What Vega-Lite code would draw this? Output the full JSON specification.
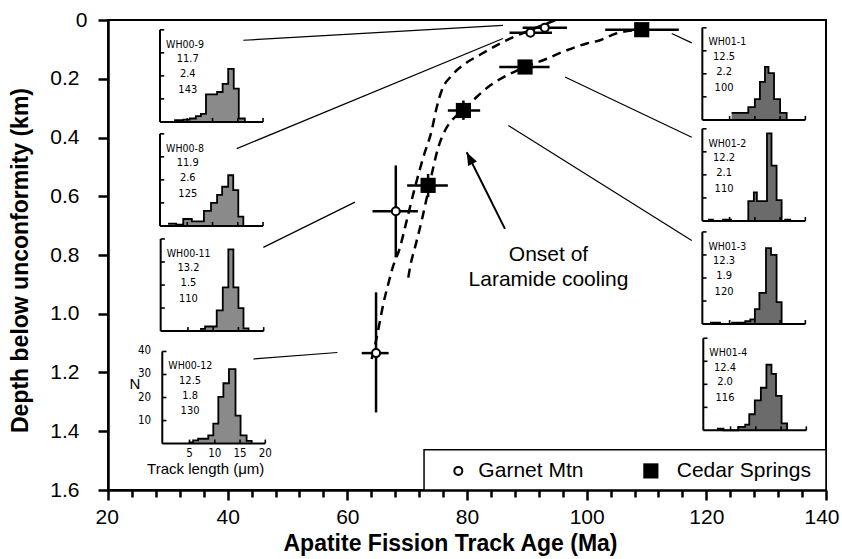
{
 "$schema": "https://vega.github.io/schema/vega-lite/v6.json",
 "width": 718,
 "height": 470,
 "autosize": "none",
 "padding": {"left": 108, "top": 20, "right": 16, "bottom": 69},
 "background": "white",
 "config": {
  "view": {"stroke": "black", "strokeWidth": 2},
  "font": "Liberation Sans",
  "axis": {"domainColor": "black", "domainWidth": 2.5, "tickColor": "black", "tickWidth": 2.5, "labelColor": "black", "labelFont": "Liberation Sans", "labelFontSize": 21, "titleFont": "Liberation Sans", "titleFontSize": 23, "titleFontWeight": "bold", "titleColor": "black", "grid": false, "labelFlush": false, "labelOverlap": false}
 },
 "datasets": {
  "samples": [
   {"site": "Garnet Mtn", "age": 93.0, "depth": 0.026, "age_lo": 89.3, "age_hi": 96.7},
   {"site": "Garnet Mtn", "age": 90.6, "depth": 0.043, "age_lo": 87.1, "age_hi": 94.2},
   {"site": "Garnet Mtn", "age": 68.1, "depth": 0.651, "age_lo": 64.2, "age_hi": 71.8, "depth_lo": 0.495, "depth_hi": 0.808},
   {"site": "Garnet Mtn", "age": 64.8, "depth": 1.134, "age_lo": 62.4, "age_hi": 66.9, "depth_lo": 0.927, "depth_hi": 1.336},
   {"site": "Cedar Springs", "age": 109.2, "depth": 0.033, "age_lo": 103.1, "age_hi": 115.4},
   {"site": "Cedar Springs", "age": 89.7, "depth": 0.160, "age_lo": 85.4, "age_hi": 93.8},
   {"site": "Cedar Springs", "age": 79.4, "depth": 0.308, "age_lo": 76.8, "age_hi": 82.2, "depth_lo": 0.274, "depth_hi": 0.340},
   {"site": "Cedar Springs", "age": 73.5, "depth": 0.563, "age_lo": 70.0, "age_hi": 76.8, "depth_lo": 0.524, "depth_hi": 0.603}
  ],
  "curves": [
   {"curve": "Garnet Mtn", "age": 64.07, "depth": 1.154},
   {"curve": "Garnet Mtn", "age": 64.79, "depth": 1.092},
   {"curve": "Garnet Mtn", "age": 65.46, "depth": 1.024},
   {"curve": "Garnet Mtn", "age": 66.01, "depth": 0.967},
   {"curve": "Garnet Mtn", "age": 66.85, "depth": 0.898},
   {"curve": "Garnet Mtn", "age": 67.42, "depth": 0.853},
   {"curve": "Garnet Mtn", "age": 68.80, "depth": 0.774},
   {"curve": "Garnet Mtn", "age": 69.92, "depth": 0.683},
   {"curve": "Garnet Mtn", "age": 71.31, "depth": 0.569},
   {"curve": "Garnet Mtn", "age": 72.70, "depth": 0.467},
   {"curve": "Garnet Mtn", "age": 74.10, "depth": 0.376},
   {"curve": "Garnet Mtn", "age": 74.94, "depth": 0.297},
   {"curve": "Garnet Mtn", "age": 75.77, "depth": 0.240},
   {"curve": "Garnet Mtn", "age": 77.45, "depth": 0.189},
   {"curve": "Garnet Mtn", "age": 79.67, "depth": 0.149},
   {"curve": "Garnet Mtn", "age": 82.46, "depth": 0.115},
   {"curve": "Garnet Mtn", "age": 85.52, "depth": 0.080},
   {"curve": "Garnet Mtn", "age": 87.74, "depth": 0.058},
   {"curve": "Garnet Mtn", "age": 90.53, "depth": 0.035},
   {"curve": "Garnet Mtn", "age": 93.32, "depth": 0.012},
   {"curve": "Garnet Mtn", "age": 94.88, "depth": 0.0},
   {"curve": "Cedar Springs", "age": 70.19, "depth": 0.877},
   {"curve": "Cedar Springs", "age": 70.48, "depth": 0.842},
   {"curve": "Cedar Springs", "age": 71.31, "depth": 0.774},
   {"curve": "Cedar Springs", "age": 72.43, "depth": 0.683},
   {"curve": "Cedar Springs", "age": 73.54, "depth": 0.580},
   {"curve": "Cedar Springs", "age": 74.37, "depth": 0.501},
   {"curve": "Cedar Springs", "age": 75.21, "depth": 0.433},
   {"curve": "Cedar Springs", "age": 76.33, "depth": 0.376},
   {"curve": "Cedar Springs", "age": 77.71, "depth": 0.336},
   {"curve": "Cedar Springs", "age": 79.39, "depth": 0.308},
   {"curve": "Cedar Springs", "age": 81.62, "depth": 0.262},
   {"curve": "Cedar Springs", "age": 83.85, "depth": 0.223},
   {"curve": "Cedar Springs", "age": 86.64, "depth": 0.189},
   {"curve": "Cedar Springs", "age": 89.70, "depth": 0.160},
   {"curve": "Cedar Springs", "age": 93.32, "depth": 0.132},
   {"curve": "Cedar Springs", "age": 96.67, "depth": 0.103},
   {"curve": "Cedar Springs", "age": 100.01, "depth": 0.080},
   {"curve": "Cedar Springs", "age": 102.23, "depth": 0.069},
   {"curve": "Cedar Springs", "age": 104.91, "depth": 0.046},
   {"curve": "Cedar Springs", "age": 109.2, "depth": 0.033}
  ],
  "leaders": [
   {"panel": "WH00-9", "age": 42.61, "depth": 0.069, "age2": 86.02, "depth2": 0.018},
   {"panel": "WH00-8", "age": 41.51, "depth": 0.438, "age2": 86.02, "depth2": 0.063},
   {"panel": "WH00-11", "age": 45.96, "depth": 0.774, "age2": 61.28, "depth2": 0.620},
   {"panel": "WH00-12", "age": 44.29, "depth": 1.154, "age2": 58.33, "depth2": 1.132},
   {"panel": "WH01-1", "age": 114.22, "depth": 0.046, "age2": 117.56, "depth2": 0.078},
   {"panel": "WH01-2", "age": 96.38, "depth": 0.194, "age2": 117.56, "depth2": 0.399},
   {"panel": "WH01-3", "age": 86.91, "depth": 0.359, "age2": 117.56, "depth2": 0.751}
  ],
  "arrow": [
   {"age": 86.35, "depth": 0.711, "age2": 79.95, "depth2": 0.450}
  ],
  "panels": [
   {"panel": "WH00-9", "site": "Garnet Mtn", "anchor_age": 29.03, "anchor_depth": 0.347, "mean": "11.7", "sd": "2.4", "num": "143"},
   {"panel": "WH00-8", "site": "Garnet Mtn", "anchor_age": 29.03, "anchor_depth": 0.701, "mean": "11.9", "sd": "2.6", "num": "125"},
   {"panel": "WH00-11", "site": "Garnet Mtn", "anchor_age": 29.14, "anchor_depth": 1.059, "mean": "13.2", "sd": "1.5", "num": "110"},
   {"panel": "WH00-12", "site": "Garnet Mtn", "anchor_age": 29.41, "anchor_depth": 1.442, "mean": "12.5", "sd": "1.8", "num": "130"},
   {"panel": "WH01-1", "site": "Cedar Springs", "anchor_age": 119.67, "anchor_depth": 0.340, "mean": "12.5", "sd": "2.2", "num": "100"},
   {"panel": "WH01-2", "site": "Cedar Springs", "anchor_age": 119.67, "anchor_depth": 0.684, "mean": "12.2", "sd": "2.1", "num": "110"},
   {"panel": "WH01-3", "site": "Cedar Springs", "anchor_age": 119.67, "anchor_depth": 1.035, "mean": "12.3", "sd": "1.9", "num": "120"},
   {"panel": "WH01-4", "site": "Cedar Springs", "anchor_age": 119.83, "anchor_depth": 1.397, "mean": "12.4", "sd": "2.0", "num": "116"}
  ],
  "hist": [
   {"panel": "WH00-9", "len": 2.4, "n": 0.8}, {"panel": "WH00-9", "len": 4.2, "n": 1}, {"panel": "WH00-9", "len": 5.5, "n": 1.5}, {"panel": "WH00-9", "len": 6.7, "n": 2.5}, {"panel": "WH00-9", "len": 7.7, "n": 3.5}, {"panel": "WH00-9", "len": 8.7, "n": 12}, {"panel": "WH00-9", "len": 10.9, "n": 13}, {"panel": "WH00-9", "len": 12.0, "n": 16.5}, {"panel": "WH00-9", "len": 13.1, "n": 23}, {"panel": "WH00-9", "len": 14.2, "n": 14.5}, {"panel": "WH00-9", "len": 15.2, "n": 1.5}, {"panel": "WH00-9", "len": 16.4, "n": 0},
   {"panel": "WH00-8", "len": 1.2, "n": 1}, {"panel": "WH00-8", "len": 2.8, "n": 0.5}, {"panel": "WH00-8", "len": 4.2, "n": 3}, {"panel": "WH00-8", "len": 5.9, "n": 2}, {"panel": "WH00-8", "len": 8.3, "n": 6.5}, {"panel": "WH00-8", "len": 9.7, "n": 10}, {"panel": "WH00-8", "len": 10.9, "n": 13.5}, {"panel": "WH00-8", "len": 11.9, "n": 17}, {"panel": "WH00-8", "len": 13.1, "n": 22}, {"panel": "WH00-8", "len": 14.1, "n": 15.5}, {"panel": "WH00-8", "len": 15.1, "n": 4}, {"panel": "WH00-8", "len": 16.1, "n": 0},
   {"panel": "WH00-11", "len": 7.4, "n": 1}, {"panel": "WH00-11", "len": 8.4, "n": 2}, {"panel": "WH00-11", "len": 10.7, "n": 9}, {"panel": "WH00-11", "len": 11.9, "n": 19}, {"panel": "WH00-11", "len": 13.0, "n": 35.5}, {"panel": "WH00-11", "len": 14.0, "n": 19}, {"panel": "WH00-11", "len": 15.0, "n": 10}, {"panel": "WH00-11", "len": 16.0, "n": 1.2}, {"panel": "WH00-11", "len": 17.0, "n": 0},
   {"panel": "WH00-12", "len": 4.8, "n": 0.5}, {"panel": "WH00-12", "len": 5.7, "n": 1.4}, {"panel": "WH00-12", "len": 6.7, "n": 2.1}, {"panel": "WH00-12", "len": 8.7, "n": 3.6}, {"panel": "WH00-12", "len": 9.7, "n": 8.7}, {"panel": "WH00-12", "len": 10.7, "n": 20.3}, {"panel": "WH00-12", "len": 11.7, "n": 26.2}, {"panel": "WH00-12", "len": 12.8, "n": 32.3}, {"panel": "WH00-12", "len": 14.1, "n": 12.1}, {"panel": "WH00-12", "len": 15.1, "n": 3.6}, {"panel": "WH00-12", "len": 16.3, "n": 1.2}, {"panel": "WH00-12", "len": 17.3, "n": 0},
   {"panel": "WH01-1", "len": 5.4, "n": 3}, {"panel": "WH01-1", "len": 8.7, "n": 5.5}, {"panel": "WH01-1", "len": 10.0, "n": 9}, {"panel": "WH01-1", "len": 11.0, "n": 16.5}, {"panel": "WH01-1", "len": 12.0, "n": 23}, {"panel": "WH01-1", "len": 12.7, "n": 20.3}, {"panel": "WH01-1", "len": 13.8, "n": 9}, {"panel": "WH01-1", "len": 15.0, "n": 3}, {"panel": "WH01-1", "len": 16.3, "n": 0},
   {"panel": "WH01-2", "len": 0.7, "n": 0.6}, {"panel": "WH01-2", "len": 1.7, "n": 0}, {"panel": "WH01-2", "len": 3.7, "n": 0.6}, {"panel": "WH01-2", "len": 5.3, "n": 0}, {"panel": "WH01-2", "len": 8.7, "n": 8.6}, {"panel": "WH01-2", "len": 9.8, "n": 12.4}, {"panel": "WH01-2", "len": 10.4, "n": 8.6}, {"panel": "WH01-2", "len": 12.4, "n": 38}, {"panel": "WH01-2", "len": 13.3, "n": 24}, {"panel": "WH01-2", "len": 14.3, "n": 9}, {"panel": "WH01-2", "len": 15.3, "n": 0}, {"panel": "WH01-2", "len": 16.0, "n": 0.6}, {"panel": "WH01-2", "len": 17.0, "n": 0},
   {"panel": "WH01-3", "len": 1.1, "n": 0.6}, {"panel": "WH01-3", "len": 3.1, "n": 0}, {"panel": "WH01-3", "len": 5.5, "n": 0.6}, {"panel": "WH01-3", "len": 8.1, "n": 1.2}, {"panel": "WH01-3", "len": 9.1, "n": 2}, {"panel": "WH01-3", "len": 10.0, "n": 6.5}, {"panel": "WH01-3", "len": 10.9, "n": 13.5}, {"panel": "WH01-3", "len": 12.2, "n": 33}, {"panel": "WH01-3", "len": 13.2, "n": 30}, {"panel": "WH01-3", "len": 14.3, "n": 9.5}, {"panel": "WH01-3", "len": 15.3, "n": 0},
   {"panel": "WH01-4", "len": 2.3, "n": 0.8}, {"panel": "WH01-4", "len": 3.6, "n": 0}, {"panel": "WH01-4", "len": 6.5, "n": 1.5}, {"panel": "WH01-4", "len": 7.9, "n": 2.5}, {"panel": "WH01-4", "len": 8.7, "n": 7}, {"panel": "WH01-4", "len": 9.8, "n": 13}, {"panel": "WH01-4", "len": 11.0, "n": 18.5}, {"panel": "WH01-4", "len": 12.1, "n": 28.5}, {"panel": "WH01-4", "len": 13.1, "n": 24.5}, {"panel": "WH01-4", "len": 14.0, "n": 15}, {"panel": "WH01-4", "len": 15.1, "n": 3}, {"panel": "WH01-4", "len": 16.2, "n": 0}
  ],
  "inset_ticks": [
   {"axis": "y", "t": 10}, {"axis": "y", "t": 20}, {"axis": "y", "t": 30}, {"axis": "y", "t": 40},
   {"axis": "x", "t": 5}, {"axis": "x", "t": 10}, {"axis": "x", "t": 15}, {"axis": "x", "t": 20}
  ],
  "inset_titles": [
   {"panel": "WH00-12", "role": "y", "label": "N"},
   {"panel": "WH00-12", "role": "x", "label": "Track length (μm)"}
  ],
  "legend_box": [
   {"age": 72.82, "age2": 140, "depth": 1.463, "depth2": 1.6}
  ],
  "legend_items": [
   {"site": "Garnet Mtn", "age": 78.55, "depth": 1.535, "label_age": 81.9},
   {"site": "Cedar Springs", "age": 110.73, "depth": 1.535, "label_age": 115.05}
  ],
  "notes": [
   {"label": "Onset of\nLaramide cooling", "age": 93.62, "depth": 0.799}
  ]
 },
 "encoding": {
  "x": {"field": "age", "type": "quantitative",
   "scale": {"domain": [20, 140], "nice": false, "zero": false},
   "axis": {"title": "Apatite Fission Track Age (Ma)",
    "values": [20,24,28,32,36,40,44,48,52,56,60,64,68,72,76,80,84,88,92,96,100,104,108,112,116,120,124,128,132,136,140],
    "labelExpr": "datum.value % 20 === 0 ? datum.label : ''",
    "tickSize": {"condition": {"test": "datum.value % 20 === 0", "value": 10}, "value": 7},
    "labelFlush": true, "labelFlushOffset": 13,
    "labelPadding": 6, "titlePadding": 5, "titleX": 342}},
  "y": {"field": "depth", "type": "quantitative",
   "scale": {"domain": [0, 1.6], "reverse": true, "nice": false, "zero": false},
   "axis": {"title": "Depth below unconformity (km)",
    "values": [0, 0.2, 0.4, 0.6, 0.8, 1.0, 1.2, 1.4, 1.6],
    "labelExpr": "datum.value === 0 ? '0' : format(datum.value, '.1f')",
    "tickSize": 10,
    "labelPadding": {"condition": {"test": "datum.value === 0", "value": 11}, "value": 19},
    "titlePadding": 17, "titleY": 240}}
 },
 "layer": [
  {"data": {"name": "leaders"}, "mark": {"type": "rule", "strokeWidth": 1.2, "color": "black"},
   "encoding": {"x2": {"field": "age2"}, "y2": {"field": "depth2"}}},
  {"data": {"name": "curves"}, "mark": {"type": "line", "interpolate": "monotone", "strokeDash": [9, 6], "strokeWidth": 2.5, "color": "black"},
   "encoding": {"detail": {"field": "curve"}}},
  {"data": {"name": "arrow"}, "mark": {"type": "rule", "strokeWidth": 2, "color": "black"},
   "encoding": {"x2": {"field": "age2"}, "y2": {"field": "depth2"}}},
  {"data": {"name": "arrow"},
   "transform": [{"calculate": "datum.age2", "as": "age"}, {"calculate": "datum.depth2", "as": "depth"}],
   "mark": {"type": "point", "shape": "M0,0L-0.38,1L0.38,1Z", "angle": 333.4, "size": 676, "filled": true, "color": "black", "opacity": 1, "strokeWidth": 0}},
  {"data": {"name": "samples"},
   "transform": [{"calculate": "datum.age_lo", "as": "age"}],
   "mark": {"type": "rule", "strokeWidth": 2.5, "color": "black"},
   "encoding": {"x2": {"field": "age_hi"}}},
  {"data": {"name": "samples"}, "transform": [{"filter": "isValid(datum.depth_lo)"}, {"calculate": "datum.depth_lo", "as": "depth"}],
   "mark": {"type": "rule", "strokeWidth": 2.5, "color": "black"},
   "encoding": {"y2": {"field": "depth_hi"}}},
  {"data": {"name": "samples"}, "transform": [{"filter": "datum.site === 'Garnet Mtn'"}],
   "mark": {"type": "point", "shape": "circle", "size": 64, "filled": true, "fill": "white", "stroke": "black", "strokeWidth": 2, "opacity": 1}},
  {"data": {"name": "samples"}, "transform": [{"filter": "datum.site === 'Cedar Springs'"}],
   "mark": {"type": "square", "size": 230, "color": "black", "opacity": 1}},
  {"data": {"name": "hist"},
   "transform": [
    {"lookup": "panel", "from": {"data": {"name": "panels"}, "key": "panel", "fields": ["site", "anchor_age", "anchor_depth"]}},
    {"filter": "datum.site === 'Garnet Mtn'"},
    {"calculate": "datum.anchor_age + datum.len * 0.844", "as": "age"},
    {"calculate": "datum.anchor_depth - datum.n * 0.00784", "as": "depth"},
    {"calculate": "datum.anchor_depth", "as": "base"}],
   "mark": {"type": "area", "interpolate": "step-after", "fill": "#8a8a8a", "opacity": 1},
   "encoding": {"y2": {"field": "base"}, "detail": {"field": "panel"}}},
  {"data": {"name": "hist"},
   "transform": [
    {"lookup": "panel", "from": {"data": {"name": "panels"}, "key": "panel", "fields": ["site", "anchor_age", "anchor_depth"]}},
    {"filter": "datum.site === 'Cedar Springs'"},
    {"calculate": "datum.anchor_age + datum.len * 0.844", "as": "age"},
    {"calculate": "datum.anchor_depth - datum.n * 0.00784", "as": "depth"},
    {"calculate": "datum.anchor_depth", "as": "base"}],
   "mark": {"type": "area", "interpolate": "step-after", "fill": "#6b6b6b", "opacity": 1},
   "encoding": {"y2": {"field": "base"}, "detail": {"field": "panel"}}},
  {"data": {"name": "hist"},
   "transform": [
    {"lookup": "panel", "from": {"data": {"name": "panels"}, "key": "panel", "fields": ["anchor_age", "anchor_depth"]}},
    {"calculate": "datum.anchor_age + datum.len * 0.844", "as": "age"},
    {"calculate": "datum.anchor_depth - datum.n * 0.00784", "as": "depth"}],
   "mark": {"type": "line", "interpolate": "step-after", "stroke": "black", "strokeWidth": 1.8},
   "encoding": {"detail": {"field": "panel"}}},
  {"data": {"name": "panels"},
   "transform": [
    {"calculate": "datum.anchor_age - 0.4 * 0.844", "as": "age"},
    {"calculate": "datum.anchor_depth", "as": "depth"},
    {"calculate": "datum.anchor_depth - 40 * 0.00784", "as": "depth2"}],
   "mark": {"type": "rule", "strokeWidth": 2, "color": "black"},
   "encoding": {"y2": {"field": "depth2"}}},
  {"data": {"name": "panels"},
   "transform": [
    {"calculate": "datum.anchor_age - 0.4 * 0.844", "as": "age"},
    {"calculate": "datum.anchor_age + 20 * 0.844", "as": "age2"},
    {"calculate": "datum.anchor_depth", "as": "depth"}],
   "mark": {"type": "rule", "strokeWidth": 2, "color": "black"},
   "encoding": {"x2": {"field": "age2"}}},
  {"data": {"name": "inset_ticks"},
   "transform": [
    {"calculate": "['WH00-9','WH00-8','WH00-11','WH00-12','WH01-1','WH01-2','WH01-3','WH01-4']", "as": "panel"},
    {"flatten": ["panel"]},
    {"lookup": "panel", "from": {"data": {"name": "panels"}, "key": "panel", "fields": ["anchor_age", "anchor_depth"]}},
    {"calculate": "datum.axis === 'y' ? datum.anchor_age - 0.4 * 0.844 : datum.anchor_age + datum.t * 0.844", "as": "age"},
    {"calculate": "datum.axis === 'y' ? datum.age + 0.7 : datum.age", "as": "age2"},
    {"calculate": "datum.axis === 'y' ? datum.anchor_depth - datum.t * 0.00784 : datum.anchor_depth", "as": "depth"},
    {"calculate": "datum.axis === 'y' ? datum.depth : datum.anchor_depth - 0.0136", "as": "depth2"}],
   "mark": {"type": "rule", "strokeWidth": 1.6, "color": "black"},
   "encoding": {"x2": {"field": "age2"}, "y2": {"field": "depth2"}}},
  {"data": {"name": "panels"},
   "transform": [
    {"calculate": "datum.anchor_age + 0.8 * 0.844", "as": "age"},
    {"calculate": "datum.anchor_depth - 33.6 * 0.00784", "as": "depth"}],
   "mark": {"type": "text", "align": "left", "baseline": "middle", "font": "Liberation Sans Narrow, DejaVu Sans Condensed, Liberation Sans", "fontSize": 10.5, "color": "black"},
   "encoding": {"text": {"field": "panel"}}},
  {"data": {"name": "panels"},
   "transform": [
    {"fold": ["mean", "sd", "num"], "as": ["stat", "value"]},
    {"calculate": "datum.anchor_age + (datum.site === 'Garnet Mtn' ? 5.1 : 3.9) * 0.844", "as": "age"},
    {"calculate": "datum.anchor_depth - (datum.stat === 'mean' ? 27.2 : datum.stat === 'sd' ? 20.8 : 14) * 0.00784", "as": "depth"}],
   "mark": {"type": "text", "align": "center", "baseline": "middle", "font": "Liberation Sans Narrow, DejaVu Sans Condensed, Liberation Sans", "fontSize": 11, "color": "black"},
   "encoding": {"text": {"field": "value"}}},
  {"data": {"name": "inset_ticks"},
   "transform": [
    {"calculate": "'WH00-12'", "as": "panel"},
    {"lookup": "panel", "from": {"data": {"name": "panels"}, "key": "panel", "fields": ["anchor_age", "anchor_depth"]}},
    {"calculate": "datum.axis === 'y' ? datum.anchor_age - 3.9 * 0.844 : datum.anchor_age + datum.t * 0.844", "as": "age"},
    {"calculate": "datum.axis === 'y' ? datum.anchor_depth - datum.t * 0.00784 : datum.anchor_depth + 4.6 * 0.00784", "as": "depth"}],
   "mark": {"type": "text", "align": "center", "baseline": "middle", "font": "Liberation Sans Narrow, DejaVu Sans Condensed, Liberation Sans", "fontSize": 11.5, "color": "black"},
   "encoding": {"text": {"field": "t"}}},
  {"data": {"name": "inset_titles"},
   "transform": [
    {"lookup": "panel", "from": {"data": {"name": "panels"}, "key": "panel", "fields": ["anchor_age", "anchor_depth"]}},
    {"calculate": "datum.anchor_age + (datum.role === 'y' ? -5.8 : 8.2) * 0.844", "as": "age"},
    {"calculate": "datum.anchor_depth - (datum.role === 'y' ? 25.8 : -11.1) * 0.00784", "as": "depth"}],
   "mark": {"type": "text", "align": "center", "baseline": "middle", "fontSize": 15, "color": "black"},
   "encoding": {"text": {"field": "label"}}},
  {"data": {"name": "legend_box"}, "mark": {"type": "rect", "fill": "white", "stroke": "black", "strokeWidth": 1.5},
   "encoding": {"x2": {"field": "age2"}, "y2": {"field": "depth2"}}},
  {"data": {"name": "legend_items"}, "transform": [{"filter": "datum.site === 'Garnet Mtn'"}],
   "mark": {"type": "point", "shape": "circle", "size": 64, "filled": true, "fill": "white", "stroke": "black", "strokeWidth": 2, "opacity": 1}},
  {"data": {"name": "legend_items"}, "transform": [{"filter": "datum.site === 'Cedar Springs'"}],
   "mark": {"type": "square", "size": 230, "color": "black", "opacity": 1}},
  {"data": {"name": "legend_items"},
   "transform": [{"calculate": "datum.label_age", "as": "age"}],
   "mark": {"type": "text", "align": "left", "baseline": "middle", "fontSize": 21, "color": "black"},
   "encoding": {"text": {"field": "site"}}},
  {"data": {"name": "notes"},
   "mark": {"type": "text", "align": "center", "baseline": "middle", "fontSize": 21, "lineBreak": "\n", "lineHeight": 25, "color": "black"},
   "encoding": {"text": {"field": "label"}}}
 ]
}
